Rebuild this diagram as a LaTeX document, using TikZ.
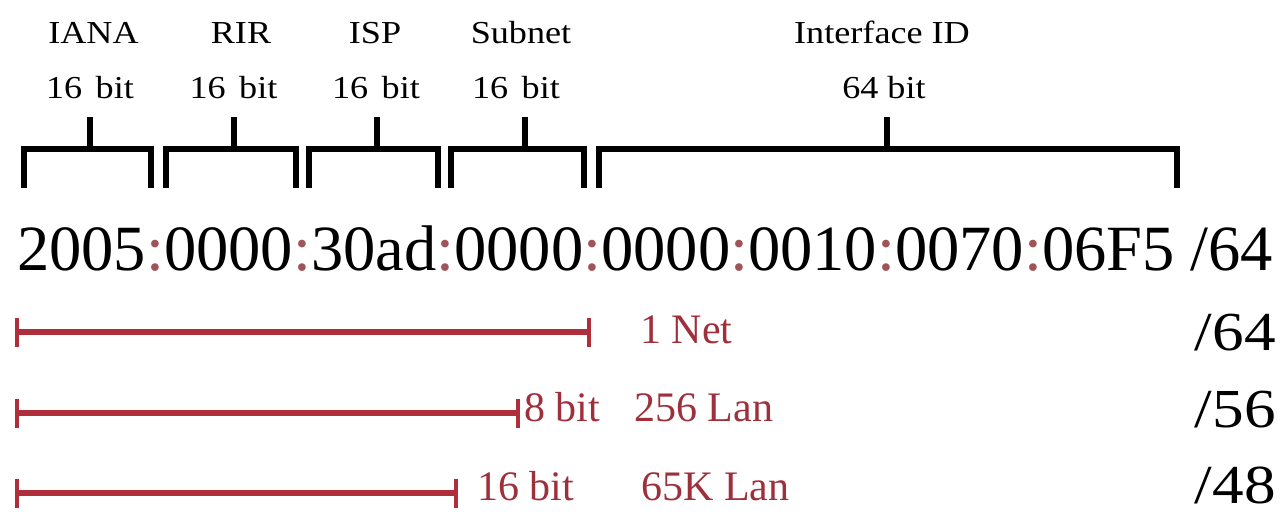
\documentclass[tikz,border=0pt]{standalone}
\usepackage{fontspec}
\setmainfont{Liberation Serif}
\newfontfamily\labelfont[FakeStretch=1.13]{Liberation Serif}
\newfontfamily\prefixfont[FakeStretch=1.15]{Liberation Serif}
\definecolor{barred}{RGB}{176,46,60}
\definecolor{textred}{RGB}{158,48,60}
\definecolor{colonred}{RGB}{160,84,88}
\newcommand{\cl}{\textcolor{colonred}{:}}
\newcommand{\wsp}{\hspace{0.42em}}
\tikzset{
  bracket/.style={line width=6pt, draw=black, line join=miter},
  rangebar/.style={line width=6.5pt, draw=barred},
  rangetick/.style={line width=4pt, draw=barred},
  toplbl/.style={inner sep=0pt, anchor=base, font=\labelfont\fontsize{32}{36}\selectfont},
  redlbl/.style={inner sep=0pt, anchor=base west, text=textred, font=\fontsize{42}{46}\selectfont},
  prefixlbl/.style={inner sep=0pt, anchor=base east, font=\prefixfont\fontsize{55}{60}\selectfont},
}
\begin{document}
\begin{tikzpicture}[x=1pt,y=-1pt]
\useasboundingbox (0,0) rectangle (1281,517);

% field names and widths
\node[toplbl] (iana)  at (93.5,43) {IANA};
\node[toplbl] (ianab) at (90,98)   {16\wsp bit};
\node[toplbl] (rir)   at (241,43)  {RIR};
\node[toplbl] (rirb)  at (233.5,98) {16\wsp bit};
\node[toplbl] (isp)   at (375,43)  {ISP};
\node[toplbl] (ispb)  at (376,98)  {16\wsp bit};
\node[toplbl] (sub)   at (521,43)  {Subnet};
\node[toplbl] (subb)  at (516,98)  {16\wsp bit};
\node[toplbl] (iid)   at (882,43)  {Interface ID};
\node[toplbl] (iidb)  at (884,98)  {64 bit};

% brackets over the address fields
\foreach \l/\r/\t in {24/151/90, 166/295.5/233.5, 309/438/377, 451/584/524.5, 599/1177/886.5}{
  \draw[bracket] (\l,188) -- (\l,149) -- (\r,149) -- (\r,188);
  \draw[bracket] (\t,149) -- (\t,117);
}

% the address
\node[inner sep=0pt, anchor=base west, font=\fontsize{64.5}{70}\selectfont] (addr) at (17,270)
  {2005\cl0000\cl30ad\cl0000\cl0000\cl0010\cl0070\cl06F5 /64};

% prefix ranges
\coordinate (s1) at (17,332);   \coordinate (e1) at (589,332);
\coordinate (s2) at (17,413);   \coordinate (e2) at (517.5,413);
\coordinate (s3) at (17,493);   \coordinate (e3) at (456,493);
\foreach \i in {1,2,3}{
  \draw[rangebar] (s\i) -- (e\i);
  \draw[rangetick] ([yshift=-14.5pt]s\i) -- ([yshift=14.5pt]s\i);
  \draw[rangetick] ([yshift=-14.5pt]e\i) -- ([yshift=14.5pt]e\i);
}

\node[redlbl] (net1)  at (640,343)   {1 Net};
\node[redlbl] (bit8)  at (524,421.5) {8 bit};
\node[redlbl] (lan256) at (634,421.5) {256 Lan};
\node[redlbl] (bit16) at (477,500)   {16 bit};
\node[redlbl] (lan65) at (641,500)   {65K Lan};

\node[prefixlbl] (p64) at (1276,350) {/64};
\node[prefixlbl] (p56) at (1276,427) {/56};
\node[prefixlbl] (p48) at (1276,503) {/48};
\end{tikzpicture}
\end{document}
